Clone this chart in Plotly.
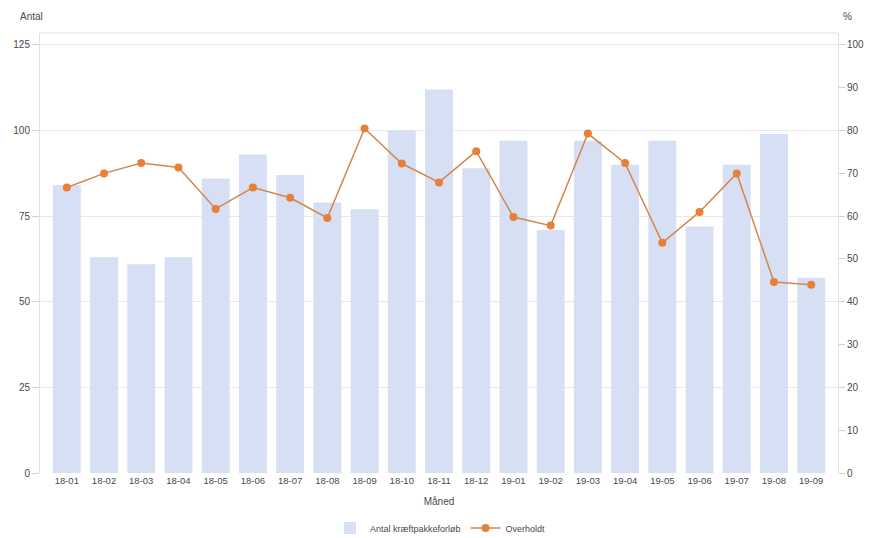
import plotly.graph_objects as go

months = ["18-01","18-02","18-03","18-04","18-05","18-06","18-07","18-08","18-09","18-10","18-11","18-12",
          "19-01","19-02","19-03","19-04","19-05","19-06","19-07","19-08","19-09"]
antal = [84, 63, 61, 63, 86, 93, 87, 79, 77, 100, 112, 89, 97, 71, 97, 90, 97, 72, 90, 99, 57]
overholdt = [66.7, 70.0, 72.4, 71.4, 61.7, 66.7, 64.3, 59.6, 80.5, 72.3, 67.9, 75.2,
             59.8, 57.8, 79.3, 72.4, 53.8, 61.0, 70.0, 44.6, 44.0]

font = dict(family="Liberation Sans, Arial, sans-serif", size=10, color="#4a4a4a")

W, H = 865, 530  # page body has an 8px margin

fig = go.Figure()
fig.add_trace(go.Bar(x=months, y=antal, name="Antal kræftpakkeforløb",
                     marker=dict(color="#d6dff3", line=dict(width=0)), width=0.75, yaxis="y"))
fig.add_trace(go.Scatter(x=months, y=overholdt, name="Overholdt", mode="lines+markers",
                         line=dict(color="#d4874a", width=1.5),
                         marker=dict(color="#e8803a", size=8), yaxis="y2"))

fig.update_layout(
    width=W, height=H,
    margin=dict(l=32, r=35, t=25, b=65, autoexpand=False),
    paper_bgcolor="white", plot_bgcolor="white",
    font=font,
    showlegend=True,
    legend=dict(orientation="h", x=0.5, xanchor="center", xref="container",
                y=(H - 520) / H, yanchor="middle", yref="container",
                font=dict(size=9, color="#4a4a4a"), itemwidth=30),
    xaxis=dict(type="category", range=[-0.72, 20.72], showgrid=False, showline=False,
               automargin=False,
               ticks="", tickfont=dict(size=9.5, color="#4a4a4a"),
               title=dict(text="Måned", font=dict(size=10, color="#4a4a4a"), standoff=13)),
    yaxis=dict(range=[0, 128.5], tickvals=[0, 25, 50, 75, 100, 125], showgrid=True,
               automargin=False,
               gridcolor="#e8e8e8", gridwidth=1, zeroline=False,
               showline=True, linecolor="#e0e0e0", linewidth=1,
               ticks="outside", ticklen=7, tickcolor="#d0d0d0",
               tickfont=dict(size=10, color="#4a4a4a")),
    yaxis2=dict(range=[0, 102.8], tickvals=list(range(0, 101, 10)), overlaying="y", side="right",
                automargin=False,
                showgrid=False, zeroline=False, showline=True, linecolor="#e0e0e0", linewidth=1,
                ticks="outside", ticklen=6, tickcolor="#d0d0d0",
                tickfont=dict(size=10, color="#4a4a4a")),
    annotations=[
        dict(text="Antal", xref="paper", yref="paper", x=-0.028, y=1.02, xanchor="left",
             yanchor="bottom", showarrow=False, font=dict(size=10, color="#4a4a4a")),
        dict(text="%", xref="paper", yref="paper", x=1.004, y=1.02, xanchor="left",
             yanchor="bottom", showarrow=False, font=dict(size=10, color="#4a4a4a")),
    ],
    shapes=[dict(type="line", xref="paper", yref="paper", x0=0, x1=1, y0=1, y1=1,
                 line=dict(color="#e0e0e0", width=1))],
)

fig.write_html("out.html")
